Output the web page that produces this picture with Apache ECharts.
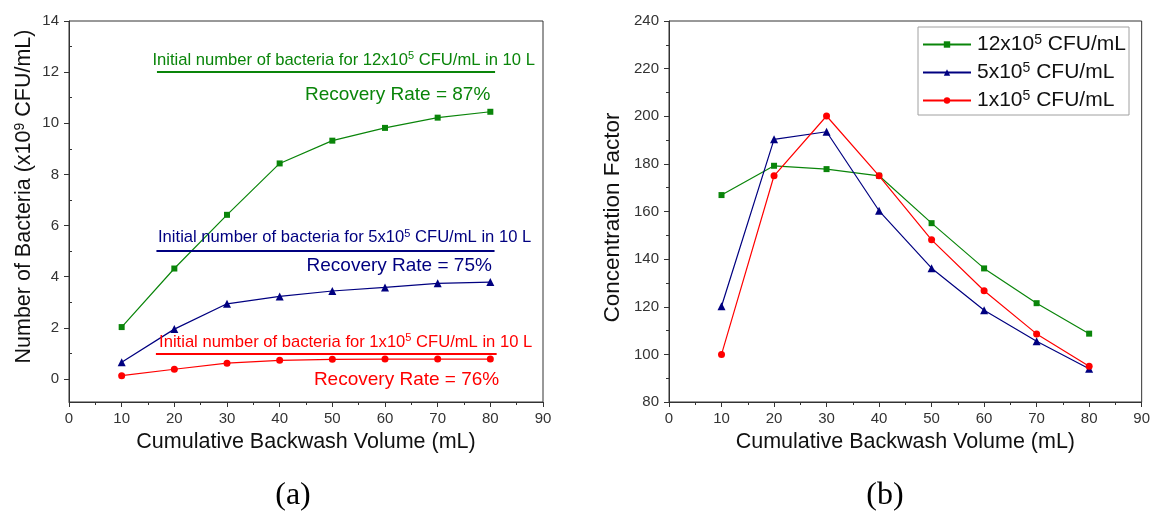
<!DOCTYPE html>
<html>
<head>
<meta charset="utf-8">
<script src="https://cdn.jsdelivr.net/npm/echarts@6/dist/echarts.min.js"></script>
<style>
html,body{margin:0;padding:0;background:#fff;}
#chart{width:1153px;height:516px;}
</style>
</head>
<body>
<div id="chart"></div>
<script>
// ---- data ----
const volumes = [10, 20, 30, 40, 50, 60, 70, 80];
const bacteria12 = [2.03, 4.32, 6.42, 8.43, 9.32, 9.82, 10.22, 10.45];
const bacteria5  = [0.65, 1.95, 2.94, 3.23, 3.44, 3.58, 3.74, 3.79];
const bacteria1  = [0.13, 0.38, 0.62, 0.73, 0.77, 0.78, 0.78, 0.78];
const factor12 = [166.9, 179.2, 177.8, 175.0, 155.1, 136.1, 121.5, 108.7];
const factor5  = [120.2, 190.3, 193.5, 160.3, 136.2, 118.5, 105.5, 94.0];
const factor1  = [100.0, 175.0, 200.1, 175.0, 148.1, 126.7, 108.6, 95.0];
const concLabels = [['12x10', '5', ' CFU/mL'], ['5x10', '5', ' CFU/mL'], ['1x10', '5', ' CFU/mL']];
const initialLevels = [12, 5, 1];
const initialSpans = [[16.7, 80.9], [16.6, 80.8], [16.5, 81.2]];
const initialTextPos = [[15.85, 12.46], [16.9, 5.52], [17.1, 1.44]];
const recoveryRates = [87, 75, 76];
const recoveryTextPos = [[44.8, 11.11], [45.1, 4.42], [46.5, -0.05]];
const leftYLabels = [0, 2, 4, 6, 8, 10, 12, 14];
const leftYMinor = [1, 3, 5, 7, 9, 11, 13];
const panelLabels = ['(a)', '(b)'];

const colors = ['#0a850a', '#000080', '#ff0000'];
const symbols = ['rect', 'triangle', 'circle'];
const symbolSizes = [6, 8, 7];
const FONT = '"Liberation Sans", Arial, sans-serif';
const NAME_SIZE = 21.5;

function pairs(ys) { return volumes.map((x, i) => [x, ys[i]]); }
function supText(parts, n, s) { return '{' + n + '|' + parts[0] + '}{' + s + '|' + parts[1] + '}{' + n + '|' + parts[2] + '}'; }

const leftSeriesVals = [bacteria12, bacteria5, bacteria1];
const rightSeriesVals = [factor12, factor5, factor1];

const series = [];
leftSeriesVals.forEach((vals, i) => {
  series.push({
    type: 'line', name: 'L' + i, xAxisIndex: 0, yAxisIndex: 0,
    data: pairs(vals), symbol: symbols[i], symbolSize: symbolSizes[i], showSymbol: true,
    lineStyle: { color: colors[i], width: 1.2 }, itemStyle: { color: colors[i] },
    animation: false, z: 3,
    markLine: {
      silent: true, symbol: 'none', animation: false,
      lineStyle: { color: colors[i], width: 2, type: 'solid' },
      label: { show: false },
      data: [[{ coord: [initialSpans[i][0], initialLevels[i]] }, { coord: [initialSpans[i][1], initialLevels[i]] }]]
    },
    markPoint: {
      silent: true, animation: false, symbol: 'circle', symbolSize: 0,
      data: [
        {
          coord: initialTextPos[i],
          label: {
            show: true, position: [0, 0], align: 'left', verticalAlign: 'middle',
            formatter: '{n|Initial number of bacteria for ' + concLabels[i][0] + '}{s|' + concLabels[i][1] + '}{n|' + concLabels[i][2] + ' in 10 L}',
            rich: {
              n: { fontSize: 16.6, fontFamily: FONT, color: colors[i], lineHeight: 19 },
              s: { fontSize: 11, fontFamily: FONT, color: colors[i], verticalAlign: 'top', lineHeight: 11 }
            }
          }
        },
        {
          coord: recoveryTextPos[i],
          label: {
            show: true, position: [0, 0], align: 'left', verticalAlign: 'middle',
            formatter: 'Recovery Rate = ' + recoveryRates[i] + '%',
            fontSize: 19, fontFamily: FONT, color: colors[i]
          }
        }
      ]
    }
  });
});
rightSeriesVals.forEach((vals, i) => {
  series.push({
    type: 'line', name: 'R' + i, xAxisIndex: 1, yAxisIndex: 2,
    data: pairs(vals), symbol: symbols[i], symbolSize: symbolSizes[i], showSymbol: true,
    lineStyle: { color: colors[i], width: 1.2 }, itemStyle: { color: colors[i] },
    animation: false, z: 3 + i
  });
});

const axisCommon = {
  axisLine: { show: true, onZero: false, lineStyle: { color: '#333', width: 1 } },
  axisTick: { show: true, inside: false, length: 5, lineStyle: { color: '#333' } },
  minorTick: { show: true, splitNumber: 2, length: 3, lineStyle: { color: '#333' } },
  splitLine: { show: false },
  axisLabel: { color: '#333', fontSize: 15, fontFamily: FONT, margin: 9 },
  nameTextStyle: { color: '#111', fontSize: NAME_SIZE, fontFamily: FONT }
};

function xAxis(gridIndex) {
  return Object.assign({}, axisCommon, {
    type: 'value', gridIndex: gridIndex, min: 0, max: 90, interval: 10,
    name: 'Cumulative Backwash Volume (mL)', nameLocation: 'middle', nameGap: 29
  });
}

const option = {
  backgroundColor: '#fff',
  animation: false,
  grid: [
    { left: 69, top: 21, width: 474, height: 381, show: true, borderColor: '#333', borderWidth: 1, backgroundColor: 'transparent' },
    { left: 669, top: 21, width: 474, height: 381, show: true, borderColor: '#333', borderWidth: 1, backgroundColor: 'transparent' }
  ],
  xAxis: [xAxis(0), xAxis(1)],
  yAxis: [
    Object.assign({}, axisCommon, {
      type: 'value', gridIndex: 0, min: -0.9, max: 14,
      minorTick: { show: false },
      axisTick: { show: true, length: 5, lineStyle: { color: '#333' }, customValues: leftYLabels },
      axisLabel: Object.assign({}, axisCommon.axisLabel, { customValues: leftYLabels, margin: 10 }),
      name: '{n|Number of Bacteria (x10}{s|9}{n| CFU/mL)}', nameLocation: 'middle', nameGap: 33, nameRotate: 90,
      nameTextStyle: {
        color: '#111', fontSize: NAME_SIZE, fontFamily: FONT, padding: [0, 0, 0, 30],
        rich: {
          n: { fontSize: NAME_SIZE, fontFamily: FONT, color: '#111', lineHeight: 23 },
          s: { fontSize: 14, fontFamily: FONT, color: '#111', verticalAlign: 'top', lineHeight: 14 }
        }
      }
    }),
    {
      type: 'value', gridIndex: 0, min: -0.9, max: 14,
      axisLine: { show: false }, splitLine: { show: false },
      axisLabel: { show: false },
      axisTick: { show: true, length: 3, lineStyle: { color: '#333' }, customValues: leftYMinor }
    },
    Object.assign({}, axisCommon, {
      type: 'value', gridIndex: 1, min: 80, max: 240, interval: 20,
      name: 'Concentration Factor', nameLocation: 'middle', nameGap: 45, nameRotate: 90,
      nameTextStyle: { color: '#111', fontSize: 22.5, fontFamily: FONT, padding: [0, 12, 0, 0] },
      axisLabel: Object.assign({}, axisCommon.axisLabel, { margin: 10 })
    })
  ],
  legend: {
    data: ['R0', 'R1', 'R2'],
    orient: 'vertical', left: 918, top: 27,
    padding: [6, 3, 4, 4],
    itemWidth: 48, itemHeight: 8, itemGap: 6,
    borderColor: '#a0a0a0', borderWidth: 1,
    formatter: function (name) { return supText(concLabels[+name.slice(1)], 'n', 's'); },
    textStyle: {
      padding: [0, 0, 0, 1],
      rich: {
        n: { fontSize: 21, fontFamily: FONT, color: '#111', lineHeight: 23 },
        s: { fontSize: 14, fontFamily: FONT, color: '#111', verticalAlign: 'top', lineHeight: 14 }
      }
    }
  },
  graphic: panelLabels.map((t, i) => ({
    type: 'text', x: [293, 885][i], y: 496,
    style: { text: t, font: '32px "Liberation Serif", serif', fill: '#000', textAlign: 'center', textVerticalAlign: 'middle' }
  })),
  series: series
};

const chart = echarts.init(document.getElementById('chart'), null, { renderer: 'canvas' });
chart.setOption(option);
</script>
</body>
</html>
